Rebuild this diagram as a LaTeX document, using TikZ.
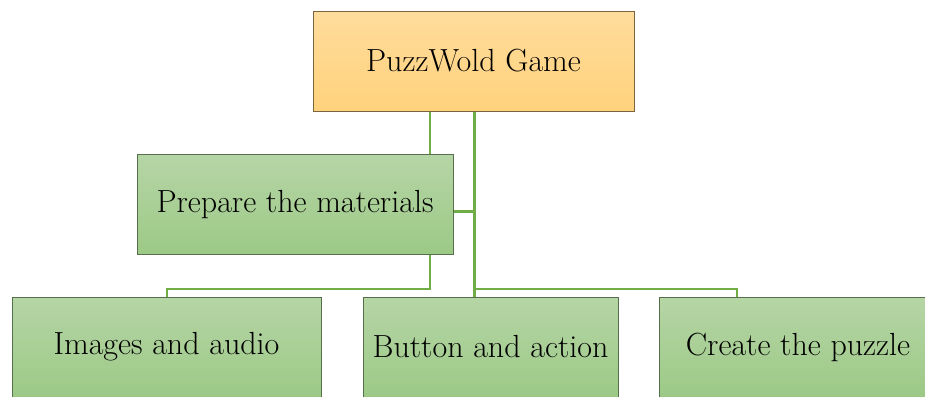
\documentclass[tikz,border=0pt]{standalone}
\usepackage{fontspec}
\usetikzlibrary{positioning}

\definecolor{orangetop}{HTML}{FFDC9C}
\definecolor{orangebot}{HTML}{FFD27C}
\definecolor{orangeline}{HTML}{7A6540}
\definecolor{greentop}{HTML}{B6D5A6}
\definecolor{greenbot}{HTML}{9CC986}
\definecolor{greenline}{HTML}{55704A}
\definecolor{linkgreen}{HTML}{70AD47}

\begin{document}
\begin{tikzpicture}[x=0.5pt, y=0.5pt,
	rootbox/.style={draw=orangeline, line width=0.5pt, top color=orangetop, bottom color=orangebot, minimum width=160.5pt, minimum height=50pt, inner sep=0pt, font=\fontsize{16}{19}\selectfont},
	leafbox/.style={draw=greenline, line width=0.5pt, top color=greentop, bottom color=greenbot, minimum height=50pt, inner sep=0pt, font=\fontsize{16}{19}\selectfont},
	link/.style={draw=linkgreen, line width=1.5pt},
	thinlink/.style={draw=linkgreen, line width=1pt}]
	\useasboundingbox (0,0) rectangle (925,-396);

	\node[rootbox] (top) at (473.5,-61) {PuzzWold Game};
	\node[leafbox, minimum width=158pt] (prep) at (295,-204.5) {Prepare the materials};

	\node[leafbox, minimum width=154.5pt] (img) at (166.5,-347) {Images and audio};
	\node[leafbox, minimum width=127.5pt] (btn) at (490.5,-347) {Button and action};
	\node[leafbox, minimum width=139pt] (create) at (798,-347) {Create the puzzle};

	\coordinate (t1) at (429.5,-289);
	\coordinate (spine) at (474,-289);
	\coordinate (c1) at (737,-289);
	\coordinate (pe) at ([yshift=-3.25pt]prep.east);

	\draw[thinlink] (t1 |- top.south) -- (t1 |- prep.north);
	\draw[link] (spine |- top.south) -- (spine |- btn.north);
	\draw[link] (pe) -- (spine |- pe);

	\draw[thinlink] (t1 |- prep.south) -- (t1) -- (img.north |- t1) -- (img.north);
	\draw[thinlink] (spine) -- (c1) -- (c1 |- create.north);

\end{tikzpicture}
\end{document}
